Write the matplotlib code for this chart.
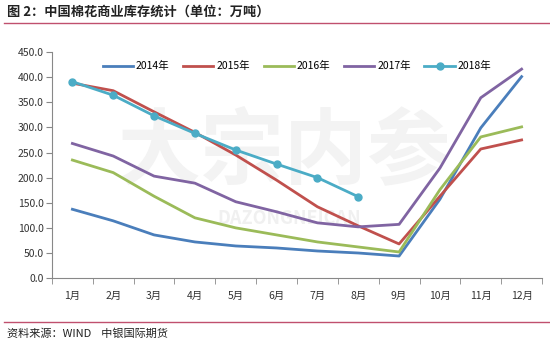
import numpy as np
import matplotlib
matplotlib.use("Agg")
import matplotlib.pyplot as plt
from matplotlib.lines import Line2D

plt.rcParams['font.family'] = ['Noto Sans CJK SC', 'DejaVu Sans']

# === 数据 ===
months = ['1月', '2月', '3月', '4月', '5月', '6月', '7月', '8月', '9月', '10月', '11月', '12月']
s2014 = [137, 114, 86, 72, 64, 60, 54, 50, 44, 157, 299, 401]
s2015 = [388, 373, 331, 290, 245, 195, 142, 104, 68, 163, 257, 275]
s2016 = [235, 210, 163, 120, 100, 86, 72, 62, 52, 176, 281, 301]
s2017 = [268, 243, 203, 189, 152, 132, 110, 102, 107, 219, 359, 416]
s2018 = [391, 364, 323, 288, 255, 227, 200, 162]
y_ticks = [0, 50, 100, 150, 200, 250, 300, 350, 400, 450]

series = [
    ('2014年', s2014, '#4a7ebb'),
    ('2015年', s2015, '#c0504d'),
    ('2016年', s2016, '#9bbb59'),
    ('2017年', s2017, '#8064a2'),
]

fig = plt.figure(figsize=(5.5, 3.4), dpi=100)
ax = fig.add_axes([0.0945, 0.182, 0.891, 0.665])

# 水印
ax.text(5.2, 250, '大宗内参', fontsize=60, fontweight='bold', style='italic',
        color='#f3f3f3', ha='center', va='center', zorder=0)
ax.text(5.3, 118, 'DAZONGNEICAN', fontsize=13, fontweight='bold',
        color='#f0f0f0', ha='center', va='center', zorder=0)

x = np.arange(len(months))
for name, vals, col in series:
    ax.plot(x, vals, color=col, lw=2.0, label=name, zorder=3)
ax.plot(x[:len(s2018)], s2018, color='#4bacc6', lw=2.0, marker='o', ms=5,
        label='2018年', zorder=4)

ax.set_xlim(-0.5, 11.5)
ax.set_ylim(0, 450)
ax.set_yticks(y_ticks)
ax.set_yticklabels([f'{v:.1f}' for v in y_ticks], fontsize=7.5, color='#333333')
ax.set_xticks(x)
ax.set_xticklabels(months, fontsize=7.5, color='#333333')
ax.tick_params(axis='x', which='major', length=0, pad=9)
ax.set_xticks(np.arange(-0.5, 12, 1), minor=True)
ax.tick_params(axis='x', which='minor', length=4, color='#888888', direction='out')
ax.tick_params(axis='y', length=4, color='#888888', direction='out', pad=2)

for s in ['top', 'right']:
    ax.spines[s].set_visible(False)
for s in ['left', 'bottom']:
    ax.spines[s].set_color('#888888')
    ax.spines[s].set_linewidth(0.8)

ax.legend(loc='upper center', bbox_to_anchor=(0.5, 1.0), ncol=5, frameon=False,
          fontsize=7.5, handlelength=2.9, columnspacing=1.3, handletextpad=0.3)

# === 标题和来源 ===
fig.text(0.012, 0.965, '图 2：中国棉花商业库存统计（单位：万吨）', fontsize=9.5,
         fontweight='bold', color='#222222', ha='left', va='center')
fig.add_artist(Line2D([0.008, 1.0], [0.932, 0.932], color='#c0506e', lw=1.0))
fig.add_artist(Line2D([0.008, 1.0], [0.053, 0.053], color='#c0506e', lw=1.0))
fig.text(0.012, 0.02, '资料来源：WIND    中银国际期货', fontsize=8, color='#222222',
         ha='left', va='center')

fig.savefig('out.png', dpi=100)
